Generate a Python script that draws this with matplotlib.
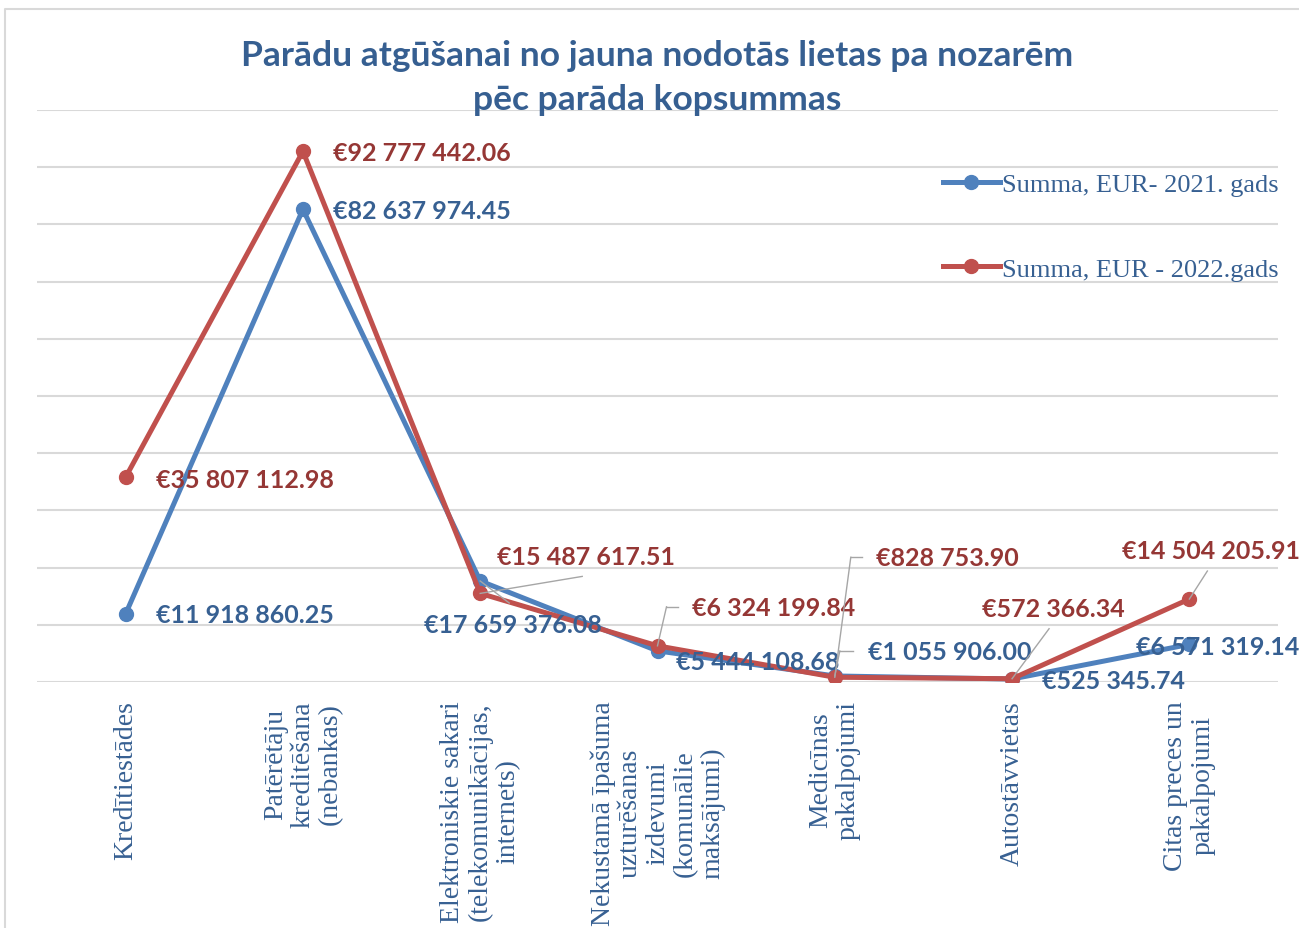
import matplotlib
matplotlib.use("Agg")
import matplotlib.pyplot as plt
from matplotlib.lines import Line2D
from matplotlib.transforms import offset_copy

# ---------------- data ----------------
categories = [
    "Kredītiestādes",
    "Patērētāju\nkreditēšana\n(nebankas)",
    "Elektroniskie sakari\n(telekomunikācijas,\ninternets)",
    "Nekustamā īpašuma\nuzturēšanas\nizdevumi\n(komunālie\nmaksājumi)",
    "Medicīnas\npakalpojumi",
    "Autostāvvietas",
    "Citas preces un\npakalpojumi",
]
sum_2021 = [11918860.25, 82637974.45, 17659376.08, 5444108.68, 1055906.00, 525345.74, 6571319.14]
sum_2022 = [35807112.98, 92777442.06, 15487617.51, 6324199.84, 828753.90, 572366.34, 14504205.91]
label_2021 = "Summa, EUR- 2021. gads"
label_2022 = "Summa, EUR - 2022.gads"
title = "Parādu atgūšanai no jauna nodotās lietas pa nozarēm\npēc parāda kopsummas"

# ---------------- layout / style ----------------
W, H = 1299, 929
BLUE, RED = "#4F81BD", "#C0504D"
BLUE_T, RED_T = "#376092", "#953735"
TITLE_C = "#365F91"
GRID_C = "#D9D9D9"
LEAD_C = "#A6A6A6"

# label offsets (pixels, x right / y up) relative to each data point, and leader lines
off_2021 = [(30, -1), (30, -1), (-56, -44), (18, -11), (33, 24), (30, -2), (-53, -2)]
off_2022 = [(30, -2), (30, -1), (17, 37), (35, 38), (41, 120), (-30, 70), (-67, 49)]
# leader: (end dx, end dy, corner dx or None)
lead_2021 = [None, None, (29, -22, None), None, (18, 25, 5), None, None]
lead_2022 = [None, None, (102, 17, None), (20, 39, 9), (27, 120, 16), (37, 50, None), (18, 28, None)]

fig = plt.figure(figsize=(W / 100, H / 100), dpi=100)
ax = fig.add_axes([37 / W, 1 - 683 / H, (1278 - 37) / W, (683 - 111) / H])

x = list(range(len(categories)))
ax.plot(x, sum_2021, color=BLUE, lw=3.6, marker="o", ms=10, label=label_2021, zorder=3,
        solid_joinstyle="round")
ax.plot(x, sum_2022, color=RED, lw=3.6, marker="o", ms=10, label=label_2022, zorder=4,
        solid_joinstyle="round")

ax.set_xlim(-0.5, len(categories) - 0.5)
ax.set_ylim(0, 100_000_000)
ax.set_yticks([i * 10_000_000 for i in range(11)])
ax.yaxis.grid(True, color=GRID_C, lw=1.5)
ax.set_axisbelow(True)
ax.tick_params(axis="y", left=False, labelleft=False)
for s in ax.spines.values():
    s.set_visible(False)
ax.set_xticks(x)
ax.set_xticklabels(categories, rotation=90, fontsize=20, family="Liberation Serif",
                   color=BLUE_T, va="top", ha="center", multialignment="center",
                   linespacing=1.12)
ax.tick_params(axis="x", length=0, pad=13)


def fmt(v):
    return "€" + f"{v:,.2f}".replace(",", " ")


def seg_fig(xi, v, d1, d2):
    t1 = offset_copy(ax.transData, fig=fig, x=d1[0], y=d1[1], units="dots")
    t2 = offset_copy(ax.transData, fig=fig, x=d2[0], y=d2[1], units="dots")
    inv = fig.transFigure.inverted()
    q1 = inv.transform(t1.transform((xi, v)))
    q2 = inv.transform(t2.transform((xi, v)))
    fig.add_artist(Line2D([q1[0], q2[0]], [q1[1], q2[1]], color=LEAD_C, lw=1,
                          transform=fig.transFigure, zorder=5))


def draw_leader(xi, v, lead):
    if lead is None:
        return
    ex, ey, cx = lead
    if cx is None:
        seg_fig(xi, v, (0, 0), (ex, ey))
    else:
        seg_fig(xi, v, (0, 0), (cx, ey))
        seg_fig(xi, v, (cx, ey), (ex, ey))


fig.canvas.draw()
for series, offs, leads, col in ((sum_2021, off_2021, lead_2021, BLUE_T),
                                 (sum_2022, off_2022, lead_2022, RED_T)):
    for xi, v, (dx, dy), ld in zip(x, series, offs, leads):
        draw_leader(xi, v, ld)
        ax.annotate(fmt(v), xy=(xi, v), xytext=(dx, dy), textcoords="offset pixels",
                    ha="left", va="center", fontsize=18, fontweight="bold",
                    family="Lato", color=col, zorder=6)

leg = ax.legend(loc="upper left", bbox_to_anchor=(943 / W, 1 - 174 / H),
                bbox_transform=fig.transFigure, frameon=False, borderpad=0,
                borderaxespad=0, handlelength=2.15, handletextpad=0.1,
                labelspacing=2.3, prop={"family": "Liberation Serif", "size": 19})
for t in leg.get_texts():
    t.set_color(BLUE_T)

fig.text(657 / W, 1 - 78 / H, title, ha="center", va="center", fontsize=25.5,
         fontweight="bold", family="Lato", color=TITLE_C, linespacing=1.45)

# outer frame (left and top edges visible in the crop)
fig.add_artist(Line2D([5 / W, 5 / W, 1.0], [0, 1 - 10 / H, 1 - 10 / H], color=GRID_C,
                      lw=1.5, transform=fig.transFigure))

fig.savefig("out.png", dpi=100)
